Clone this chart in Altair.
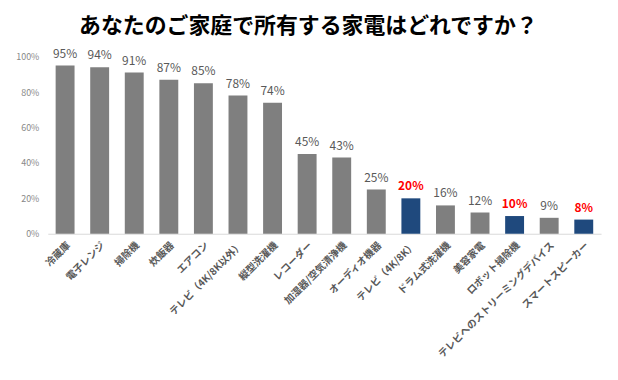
import altair as alt
import pandas as pd

categories = ["冷蔵庫", "電子レンジ", "掃除機", "炊飯器", "エアコン", "テレビ（4K/8K以外）",
              "縦型洗濯機", "レコーダー", "加湿器/空気清浄機", "オーディオ機器", "テレビ（4K/8K）",
              "ドラム式洗濯機", "美容家電", "ロボット掃除機", "テレビへのストリーミングデバイス",
              "スマートスピーカー"]
values = [0.95, 0.94, 0.91, 0.87, 0.85, 0.78, 0.74, 0.45, 0.43, 0.25, 0.20, 0.16, 0.12, 0.10, 0.09, 0.08]
highlight = [False, False, False, False, False, False, False, False, False, False, True,
             False, False, True, False, True]

df = pd.DataFrame({"cat": categories, "val": values, "hl": highlight})

FONT = "Noto Sans CJK JP"

x = alt.X("cat:N", sort=None, title=None,
          scale=alt.Scale(paddingInner=0.45, paddingOuter=0.225),
          axis=alt.Axis(labelAngle=-45, labelFontSize=10, labelFont=FONT, labelFontWeight="bold",
                        labelColor="#595959", ticks=False, domainColor="#d9d9d9", labelPadding=6,
                        labelLimit=300))
y = alt.Y("val:Q", title=None, scale=alt.Scale(domain=[0, 1]),
          axis=alt.Axis(format=".0%", values=[0, 0.2, 0.4, 0.6, 0.8, 1.0], grid=False, ticks=False,
                        domain=False, labelFontSize=9, labelColor="#888888", labelFont=FONT,
                        labelPadding=9, minExtent=30, maxExtent=30))

base = alt.Chart(df)

bars = base.mark_bar(width=19).encode(
    x=x, y=y,
    color=alt.Color("hl:N", scale=alt.Scale(domain=[False, True], range=["#7f7f7f", "#1f497d"]), legend=None),
)

text_gray = base.transform_filter("!datum.hl").mark_text(dy=-12, fontSize=12, font=FONT, color="#595959").encode(
    x=x, y=y, text=alt.Text("val:Q", format=".0%"))
text_red = base.transform_filter("datum.hl").mark_text(dy=-12, fontSize=12, font=FONT, color="#ff0000",
                                                        fontWeight="bold").encode(
    x=x, y=y, text=alt.Text("val:Q", format=".0%"))

chart = (bars + text_gray + text_red).properties(
    width=556, height=178,
    padding={"left": 7, "top": 5, "right": 9, "bottom": 0},
    title=alt.TitleParams("あなたのご家庭で所有する家電はどれですか？", font=FONT, fontSize=22,
                          fontWeight="bold", color="#000000", anchor="middle", frame="bounds", offset=10),
).configure_view(stroke=None)

chart.save("out.html", embed_options={"renderer": "svg", "actions": False})
